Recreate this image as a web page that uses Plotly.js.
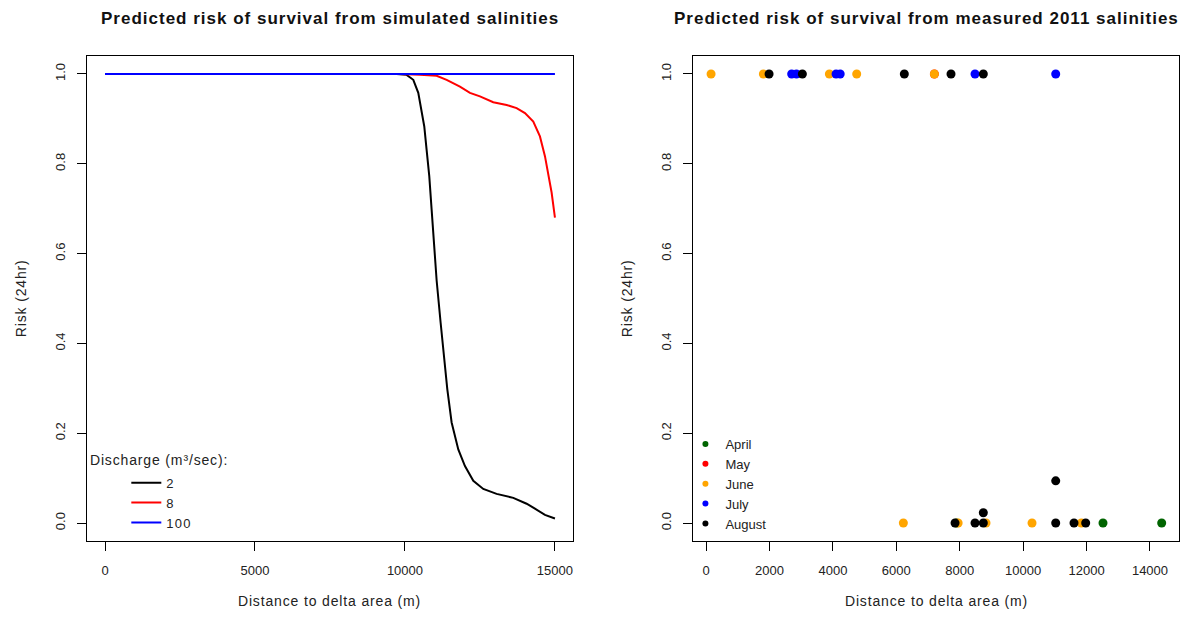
<!DOCTYPE html>
<html>
<head>
<meta charset="utf-8">
<script src="https://cdn.plot.ly/plotly-3.0.1.min.js"></script>
<style>
  html, body { margin: 0; padding: 0; background: #fff; }
  #chart { width: 1202px; height: 624px; }
  /* the original device spaces its glyphs a little wider */
  #chart .annotation-text { letter-spacing: 0.85px; }
  #chart .annotation.main-title .annotation-text { letter-spacing: 1px; }
</style>
</head>
<body>
<div id="chart"></div>
<script>
/* ── Simulated salinities: risk curves per discharge ── */
const dist2   = [0, 9500, 9720, 10056, 10278, 10444, 10556, 10644, 10722, 10811, 10889, 10967, 11056, 11189, 11300, 11411, 11556, 11778, 12000, 12278, 12611, 13056, 13611, 14056, 14333, 14667, 15000];
const risk2   = [1, 1, 1, 0.998, 0.987, 0.958, 0.92, 0.883, 0.831, 0.772, 0.698, 0.617, 0.54, 0.446, 0.374, 0.298, 0.224, 0.164, 0.127, 0.094, 0.076, 0.065, 0.056, 0.043, 0.032, 0.018, 0.01];
const dist8   = [0, 9800, 10500, 11056, 11389, 11833, 12167, 12500, 12944, 13389, 13722, 14000, 14278, 14500, 14667, 14778, 14889, 15000];
const risk8   = [1, 1, 0.998, 0.996, 0.987, 0.972, 0.958, 0.95, 0.937, 0.931, 0.924, 0.913, 0.894, 0.861, 0.817, 0.78, 0.736, 0.68];
const dist100 = [0, 5000, 10000, 15000];
const risk100 = [1, 1, 1, 1];
const dischargeLabels = ["2", "8", "100"];

/* ── Measured 2011 salinities, per month ── */
const months = ["April", "May", "June", "July", "August"];
const aprDist = [7900, 12518, 14369];
const aprRisk = [0, 0, 0];
const mayDist = [7200];
const mayRisk = [1];
const junDist = [158, 1807, 3889, 4751, 7200, 6222, 7950, 8829, 10280, 11835];
const junRisk = [1, 1, 1, 1, 1, 0, 0, 0, 0, 0];
const julDist = [2700, 2850, 4100, 4230, 8482, 11027];
const julRisk = [1, 1, 1, 1, 1, 1];
const augDist = [1987, 3037, 6253, 7725, 8744, 7852, 8482, 8744, 11027, 11604, 11972, 8744, 11027];
const augRisk = [1, 1, 1, 1, 1, 0, 0, 0, 0, 0, 0, 0.023, 0.094];

const FONT = "Liberation Sans, Arial, sans-serif";
const TXT  = "#222";
const LINE_COLORS  = ["#000000", "#ff0000", "#0000ff"];
const MONTH_COLORS = ["#006400", "#ff0000", "#ffa500", "#0000ff", "#000000"];

/* ── left panel lines ── */
const lineTraces = [[dist2, risk2], [dist8, risk8], [dist100, risk100]].map((s, i) => ({
  type: "scatter", mode: "lines",
  x: s[0], y: s[1],
  name: dischargeLabels[i],
  line: { color: LINE_COLORS[i], width: 2 },
  xaxis: "x", yaxis: "y",
  legend: "legend",
}));

/* ── right panel points ── */
const monthData = [[aprDist, aprRisk], [mayDist, mayRisk], [junDist, junRisk], [julDist, julRisk], [augDist, augRisk]];
const pointTraces = monthData.map((s, i) => ({
  type: "scatter", mode: "markers",
  x: s[0], y: s[1],
  name: months[i],
  marker: { color: MONTH_COLORS[i], size: 9 },
  xaxis: "x2", yaxis: "y2",
  showlegend: false,
}));
// small legend dots, as in the original
const legendDots = months.map((m, i) => ({
  type: "scatter", mode: "markers",
  x: [null], y: [null],
  name: m,
  marker: { color: MONTH_COLORS[i], size: 6 },
  xaxis: "x2", yaxis: "y2",
  legend: "legend2",
}));

const axisBase = {
  showline: true, mirror: true, linecolor: "#000", linewidth: 1,
  showgrid: false, zeroline: false,
  ticks: "outside", ticklen: 9, tickcolor: "#000", tickwidth: 1,
  tickfont: { family: FONT, size: 13, color: TXT },
  tickmode: "linear", tick0: 0, tickformat: "d",
  ticklabelstandoff: 8,
};
const yBase = Object.assign({}, axisBase, {
  range: [-0.04, 1.04], dtick: 0.2, tickformat: ".1f", tickangle: -90, ticklabelstandoff: 7,
});

function title(xref, yref, text, dx) {
  return { xref, yref, x: 0.5, xshift: dx, y: 1, yshift: 38, text: "<b>" + text + "</b>",
    showarrow: false, font: { family: FONT, size: 17, color: "#111" }, xanchor: "center", yanchor: "middle" };
}
function xTitle(xref, yref) {
  return { xref, yref, x: 0.5, y: 0, yshift: -60, text: "Distance to delta area (m)",
    showarrow: false, font: { family: FONT, size: 14, color: TXT }, xanchor: "center", yanchor: "middle" };
}
function yTitle(xref, yref) {
  return { xref, yref, x: 0, xshift: -67, y: 0.5, text: "Risk (24hr)", textangle: -90,
    showarrow: false, font: { family: FONT, size: 14, color: TXT }, xanchor: "center", yanchor: "middle" };
}

const layout = {
  width: 1202, height: 624,
  paper_bgcolor: "#fff", plot_bgcolor: "#fff",
  margin: { l: 87, r: 23, t: 56, b: 83 },
  showlegend: true,
  xaxis:  Object.assign({}, axisBase, { domain: [0, 0.445], range: [-600, 15600], dtick: 5000, anchor: "y" }),
  yaxis:  Object.assign({}, yBase, { domain: [0, 1], anchor: "x" }),
  xaxis2: Object.assign({}, axisBase, { domain: [0.555, 1], range: [-410, 14915], dtick: 2000, anchor: "y2" }),
  yaxis2: Object.assign({}, yBase, { domain: [0, 1], anchor: "x2" }),
  legend: {
    x: 0.036, y: 0.151, xanchor: "left", yanchor: "top",
    bgcolor: "rgba(0,0,0,0)", borderwidth: 0, tracegroupgap: 0,
    font: { family: FONT, size: 13, color: TXT },
  },
  legend2: {
    x: 0.548, y: 0.231, xanchor: "left", yanchor: "top",
    bgcolor: "rgba(0,0,0,0)", borderwidth: 0, tracegroupgap: 0,
    font: { family: FONT, size: 13, color: TXT },
  },
  annotations: [
    title("x domain", "y domain", "Predicted risk of survival from simulated salinities", 0),
    title("x2 domain", "y2 domain", "Predicted risk of survival from measured 2011 salinities", -10),
    xTitle("x domain", "y domain"), xTitle("x2 domain", "y2 domain"),
    yTitle("x domain", "y domain"), yTitle("x2 domain", "y2 domain"),
    { xref: "x domain", yref: "y domain", x: 0, xshift: 9, y: 0.167, text: "Discharge (m³/sec):",
      showarrow: false, font: { family: FONT, size: 14, color: TXT }, xanchor: "left", yanchor: "middle" },
  ],
};

Plotly.newPlot("chart", [...lineTraces, ...pointTraces, ...legendDots], layout, { staticPlot: true, displayModeBar: false })
  .then(gd => {
    // tag the two panel titles so the stylesheet can space them
    gd.querySelectorAll(".annotation").forEach((a, i) => { if (i < 2) a.classList.add("main-title"); });
    // widen legend labels like the original device
    gd.querySelectorAll(".legendtext").forEach(t => { t.style.letterSpacing = "1.2px"; });
  });
</script>
</body>
</html>
